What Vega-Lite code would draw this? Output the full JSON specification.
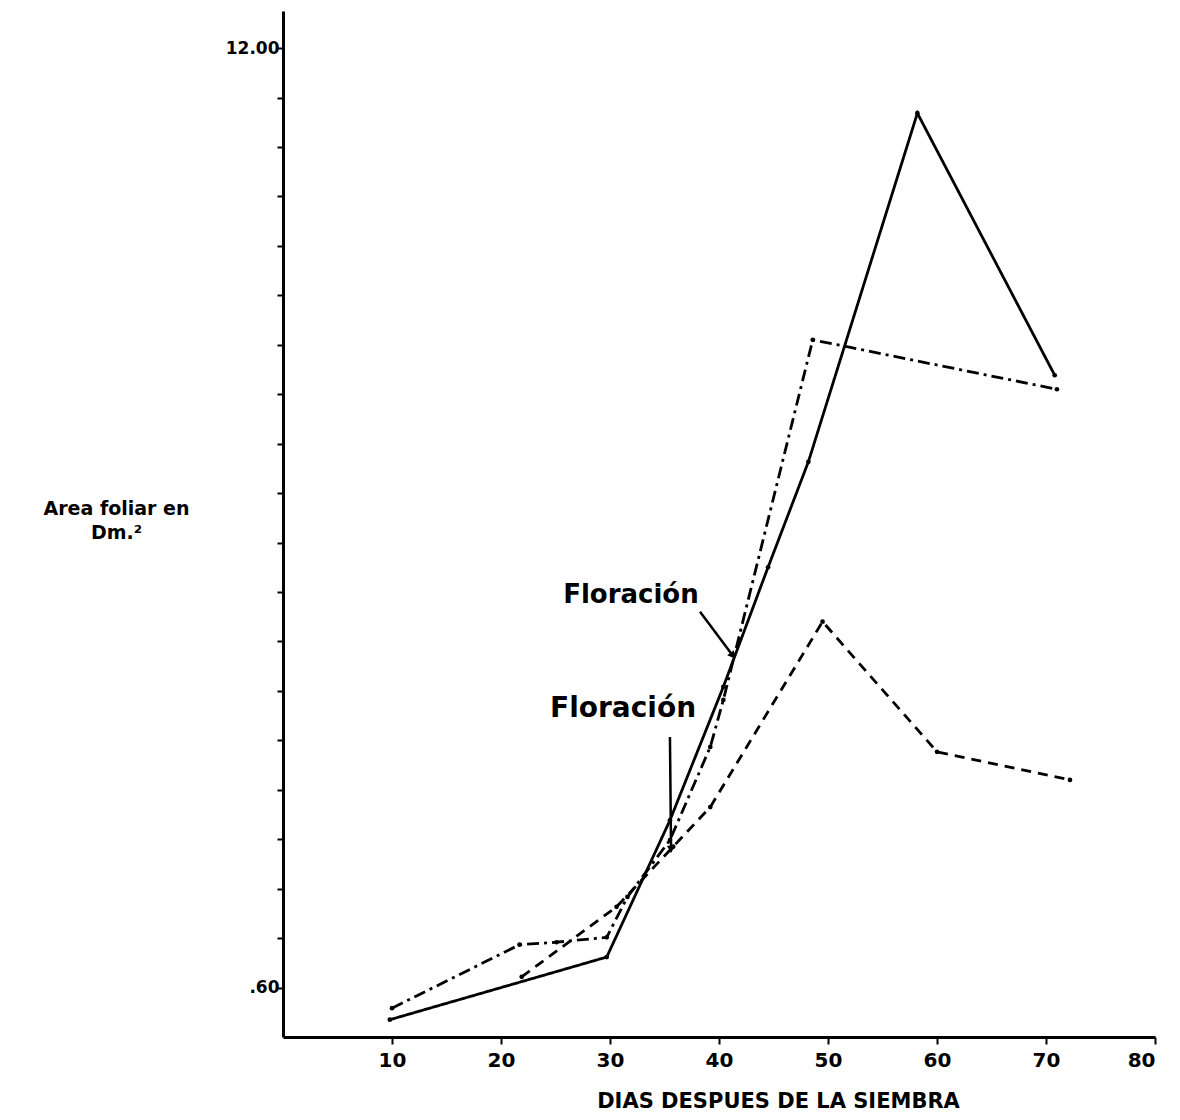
{
  "$schema": "https://vega.github.io/schema/vega-lite/v6.json",
  "width": 872,
  "height": 1026,
  "autosize": {"type": "none"},
  "padding": {"left": 283, "top": 11, "right": 25, "bottom": 83},
  "background": "white",
  "datasets": {
    "series": [
      {"serie": "A", "dia": 9.8, "area": 0.21},
      {"serie": "A", "dia": 29.7, "area": 0.97},
      {"serie": "A", "dia": 35.5, "area": 2.63},
      {"serie": "A", "dia": 40.4, "area": 4.25},
      {"serie": "A", "dia": 44.5, "area": 5.7},
      {"serie": "A", "dia": 48.2, "area": 6.98},
      {"serie": "A", "dia": 58.2, "area": 11.21},
      {"serie": "A", "dia": 70.8, "area": 8.03},
      {"serie": "B", "dia": 10.0, "area": 0.35},
      {"serie": "B", "dia": 21.7, "area": 1.12},
      {"serie": "B", "dia": 25.1, "area": 1.15},
      {"serie": "B", "dia": 29.7, "area": 1.21},
      {"serie": "B", "dia": 31.6, "area": 1.70},
      {"serie": "B", "dia": 35.5, "area": 2.39},
      {"serie": "B", "dia": 39.2, "area": 3.52},
      {"serie": "B", "dia": 40.4, "area": 4.09},
      {"serie": "B", "dia": 48.6, "area": 8.46},
      {"serie": "B", "dia": 71.0, "area": 7.86},
      {"serie": "C", "dia": 21.9, "area": 0.73},
      {"serie": "C", "dia": 30.6, "area": 1.58},
      {"serie": "C", "dia": 35.8, "area": 2.31},
      {"serie": "C", "dia": 39.2, "area": 2.79},
      {"serie": "C", "dia": 49.5, "area": 5.04},
      {"serie": "C", "dia": 60.0, "area": 3.46},
      {"serie": "C", "dia": 72.2, "area": 3.12}
    ],
    "notes": [
      {"id": 1, "label": "Floración", "dia": 25.7, "area": 5.27},
      {"id": 2, "label": "Floración", "dia": 24.5, "area": 3.88}
    ],
    "arrows": [
      {"id": 1, "dia": 38.26, "area": 5.16, "dia2": 41.19, "area2": 4.64},
      {"id": 2, "dia": 35.5, "area": 3.64, "dia2": 35.6, "area2": 2.29}
    ]
  },
  "encoding": {
    "x": {
      "field": "dia", "type": "quantitative",
      "scale": {"domain": [0, 80], "nice": false, "zero": false},
      "axis": {
        "values": [10, 20, 30, 40, 50, 60, 70, 80],
        "title": "DIAS DESPUES DE LA SIEMBRA",
        "titleX": 495, "titleY": 70, "titleAlign": "center", "titleBaseline": "alphabetic",
        "titleFont": "DejaVu Sans", "titleFontSize": 21, "titleFontWeight": "bold",
        "labelFont": "DejaVu Sans", "labelFontSize": 20, "labelFontWeight": "bold",
        "labelPadding": 6, "tickSize": 7, "tickWidth": 2,
        "domainWidth": 3, "grid": false
      }
    },
    "y": {
      "field": "area", "type": "quantitative",
      "scale": {"domain": [0, 12.45], "nice": false, "zero": false},
      "axis": {
        "values": [0.6, 1.2, 1.8, 2.4, 3.0, 3.6, 4.2, 4.8, 5.4, 6.0, 6.6, 7.2, 7.8, 8.4, 9.0, 9.6, 10.2, 10.8, 11.4, 12.0],
        "labelExpr": "datum.value < 0.7 ? '.60' : (datum.value > 11.9 ? '12.00' : '')",
        "title": ["Area foliar en", "Dm.²"],
        "titleAngle": 0, "titleX": -167, "titleY": 503, "titleAlign": "center", "titleBaseline": "alphabetic",
        "titleFont": "DejaVu Sans", "titleFontSize": 19, "titleFontWeight": "bold", "titleLineHeight": 24,
        "labelFont": "DejaVu Sans", "labelFontSize": 17, "labelFontWeight": "bold",
        "labelPadding": -2, "tickSize": 6, "tickWidth": 2,
        "domainWidth": 3, "grid": false
      }
    }
  },
  "layer": [
    {
      "data": {"name": "series"},
      "mark": {"type": "line", "color": "black", "strokeWidth": 2.8},
      "encoding": {
        "strokeDash": {
          "field": "serie", "type": "nominal",
          "scale": {"domain": ["A", "B", "C"], "range": [[1, 0], [12, 5, 3, 5], [10, 7]]},
          "legend": null
        },
        "order": {"field": "dia", "type": "quantitative"}
      }
    },
    {
      "data": {"name": "series"},
      "mark": {"type": "point", "filled": true, "color": "black", "size": 22, "opacity": 1},
      "encoding": {}
    },
    {
      "data": {"name": "notes"},
      "mark": {"type": "text", "align": "left", "baseline": "alphabetic", "font": "DejaVu Sans", "fontWeight": "bold", "color": "black"},
      "encoding": {
        "text": {"field": "label"},
        "size": {"field": "id", "type": "ordinal", "scale": {"domain": [1, 2], "range": [26, 28]}, "legend": null}
      }
    },
    {
      "data": {"name": "arrows"},
      "mark": {"type": "rule", "color": "black", "strokeWidth": 2.5},
      "encoding": {
        "x2": {"field": "dia2"},
        "y2": {"field": "area2"}
      }
    },
    {
      "data": {"name": "arrows"},
      "transform": [{"filter": "datum.id == 1"}],
      "mark": {"type": "point", "shape": "triangle", "filled": true, "color": "black", "size": 70, "angle": 143, "opacity": 1},
      "encoding": {
        "x": {"field": "dia2", "type": "quantitative"},
        "y": {"field": "area2", "type": "quantitative"}
      }
    },
    {
      "data": {"name": "arrows"},
      "transform": [{"filter": "datum.id == 2"}],
      "mark": {"type": "point", "shape": "triangle", "filled": true, "color": "black", "size": 70, "angle": 180, "opacity": 1},
      "encoding": {
        "x": {"field": "dia2", "type": "quantitative"},
        "y": {"field": "area2", "type": "quantitative"}
      }
    }
  ],
  "config": {
    "view": {"stroke": null},
    "axis": {"domainColor": "black", "tickColor": "black", "labelColor": "black", "titleColor": "black"}
  }
}
